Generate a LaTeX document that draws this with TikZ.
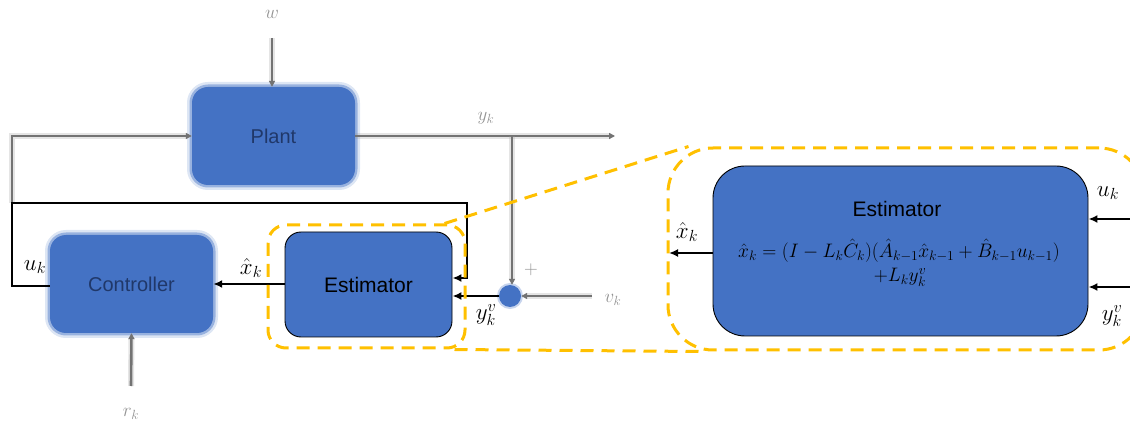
\RequirePackage{fix-cm}
\documentclass[tikz,border=0pt]{standalone}
\usepackage{fontspec}
\setmainfont{Liberation Sans}
\usetikzlibrary{arrows.meta,calc}
\definecolor{boxblue}{HTML}{4472C4}
\definecolor{hiyellow}{HTML}{FFC000}
\definecolor{dimtext}{HTML}{1A2E5A}
\begin{document}
\begin{tikzpicture}[x=1pt,y=-1pt,
  % soft-edged blocks of the surrounding loop
  hazebox/.style={rounded corners=16, fill=boxblue, inner sep=0,
    minimum width=163, minimum height=98,
    preaction={draw=boxblue, draw opacity=0.18, line width=10},
    preaction={draw=boxblue, draw opacity=0.45, line width=5},
    text=dimtext, text opacity=0.85, font=\fontsize{20}{24}\selectfont},
  hazeline/.style={draw=black!55, line width=2.6,
    preaction={draw=black!40, draw opacity=0.25, line width=6},
    -{Triangle[length=6,width=6]}},
  hazelabel/.style={text=black!50, text opacity=0.85, font=\fontsize{19}{21}\selectfont},
  % sharp estimator blocks
  estbox/.style={draw=black, line width=0.9, fill=boxblue, inner sep=0},
  sig/.style={draw=black, line width=2.6, -{Latex[length=9,width=8]}},
  lbl/.style={font=\fontsize{23}{25}\selectfont},
  eqtext/.style={font=\fontsize{19.5}{22}\selectfont, inner sep=0},
  zoomline/.style={draw=hiyellow, line width=3, dash pattern=on 13pt off 8pt}
]
\useasboundingbox (0,0) rectangle (1130,430);

% plant, controller and summing junction
\node[hazebox] (plant) at (273.5,136) {Plant};
\node[hazebox] (ctrl) at (131.5,284) {Controller};
\node[circle, fill=boxblue, minimum size=22, inner sep=0,
  preaction={draw=boxblue, draw opacity=0.3, line width=4}] (sum) at (510,296) {};

% estimator
\node[estbox, rounded corners=16, minimum width=167, minimum height=105,
  font=\fontsize{21}{24}\selectfont] (est) at (368.5,284.5) {Estimator};

% loop labels
\node[hazelabel] (wl) at (272,14) {$w$};
\node[hazelabel] (yl) at (486,118) {$y_k$};
\node[hazelabel] (vl) at (613,300) {$v_k$};
\node[hazelabel] (rl) at (131,414) {$r_k$};
\node[hazelabel] (pl) at (531,270) {$+$};

% loop connectors
\coordinate (wtop) at (272,38);
\coordinate (yout) at (615,136);
\coordinate (ybr) at (512,136);
\coordinate (vin) at (592,296);
\coordinate (lt) at (12,136);
\coordinate (lm) at (12,203);
\coordinate (rin) at (131,386);
\draw[hazeline] (wtop) -- (plant.north -| wtop);
\draw[hazeline] (plant.east) -- (yout);
\draw[hazeline] (ybr) -- (sum.north -| ybr);
\draw[hazeline] (vin) -- (sum.east);
\draw[hazeline] (lm) -- (lt) -- (plant.west);
\draw[hazeline] (rin) -- (ctrl.south);

% control feedback into the estimator
\coordinate (fbl) at (12,286);
\coordinate (fbr) at (467,203);
\coordinate (fbd) at (467,278);
\draw[sig] (ctrl.west |- fbl) -- (fbl) -- (lm) -- (fbr) -- (fbd) -- (fbd -| est.east);
\node[lbl] (ul) at (35,267) {$u_k$};

% estimator outputs and measurement input
\draw[sig] (est.west |- ctrl.east) -- (ctrl.east);
\node[lbl] (xl) at (251,268) {$\hat{x}_k$};
\draw[sig] (sum.west) -- (sum.west -| est.east);
\node[lbl] (yvl) at (486,315) {$y_k^v$};

% detail frames
\node[zoomline, rounded corners=18, minimum width=197, minimum height=123, inner sep=0]
  (zs) at (366.5,286.5) {};
\node[zoomline, rounded corners=45, minimum width=476, minimum height=202, inner sep=0]
  (zb) at (906,249) {};
\draw[zoomline] ($(zs.north east)+(-22,0)$) -- ($(zb.north west)+(22,0)$);
\draw[zoomline] ($(zs.south east)+(-12,0)$) -- ($(zb.south west)+(32,0)$);

% detailed estimator
\node[estbox, rounded corners=32, minimum width=375, minimum height=170] (best) at (900.5,251) {};
\node[font=\fontsize{21}{24}\selectfont] (btitle) at (897,209) {Estimator};
\node[eqtext] (beq1) at (899,251)
  {$\hat{x}_k=\bigl(I-L_k\hat{C}_k\bigr)\bigl(\hat{A}_{k-1}\hat{x}_{k-1}+\hat{B}_{k-1}u_{k-1}\bigr)$};
\node[eqtext] (beq2) at (900,277) {$+L_k y_k^v$};

\coordinate (uin) at (1131,219);
\coordinate (yvin) at (1131,287);
\coordinate (xout) at (669,253);
\draw[sig] (best.west |- xout) -- (xout);
\draw[sig] (uin) -- (uin -| best.east);
\draw[sig] (yvin) -- (yvin -| best.east);
\node[lbl] (bxl) at (687,232) {$\hat{x}_k$};
\node[lbl] (bul) at (1108,193) {$u_k$};
\node[lbl] (byl) at (1112,316) {$y_k^v$};
\end{tikzpicture}
\end{document}
